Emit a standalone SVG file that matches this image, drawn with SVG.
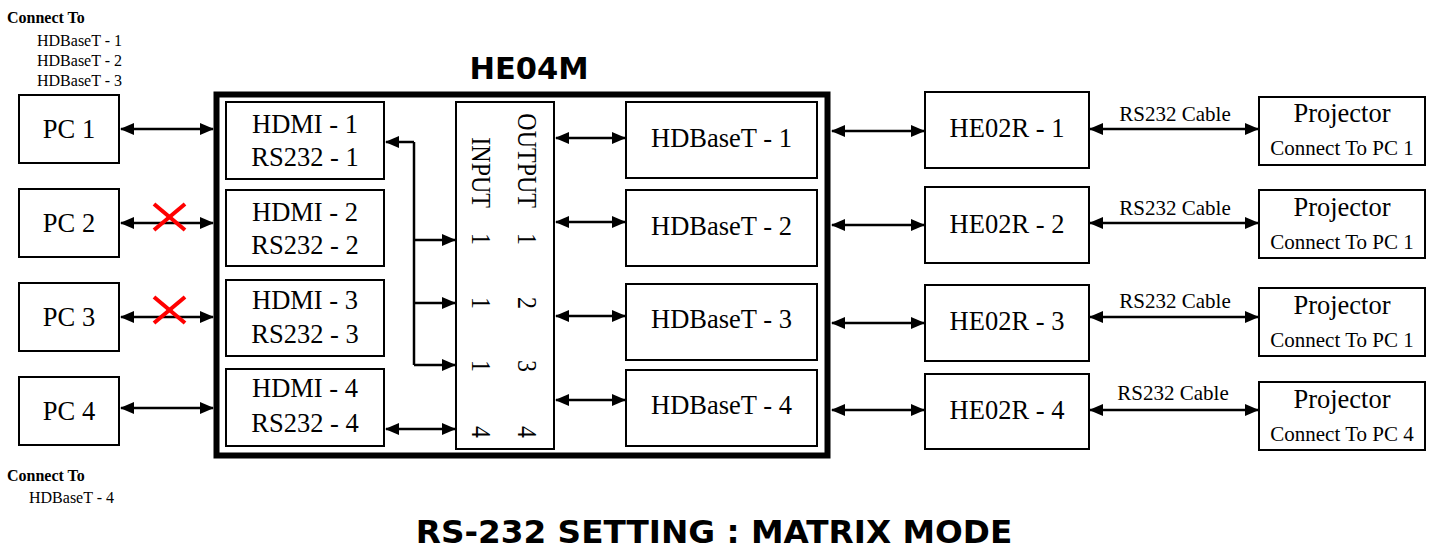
<svg xmlns="http://www.w3.org/2000/svg" width="1445" height="547" viewBox="0 0 1445 547">
<style>
.bx{fill:#fff;stroke:#000;stroke-width:2}
.t{font-family:"Liberation Serif","Times New Roman",serif;fill:#000;text-anchor:middle}
.l{font-size:26.5px}
.r{font-size:24px}
.m{font-size:21px}
.s{font-size:16px;text-anchor:start}
.b{font-weight:bold}
.h{font-family:"DejaVu Sans",Verdana,sans-serif;font-weight:bold;fill:#000;text-anchor:middle}
.c line,.c path{stroke:#000;stroke-width:2.5;fill:none}
.x line{stroke:#f00;stroke-width:4}
</style>
<defs>
<marker id="ah" viewBox="0 0 14 12" refX="13" refY="6" markerWidth="14" markerHeight="12" markerUnits="userSpaceOnUse" orient="auto-start-reverse">
<path d="M0,0 L14,6 L0,12 z" fill="#000"/>
</marker>
</defs>
<rect width="1445" height="547" fill="#fff"/>

<g id="notes">
<text class="t s b" x="7" y="23">Connect To</text>
<text class="t s" x="37" y="46">HDBaseT - 1</text>
<text class="t s" x="37" y="66">HDBaseT - 2</text>
<text class="t s" x="37" y="86">HDBaseT - 3</text>
<text class="t s b" x="7" y="481">Connect To</text>
<text class="t s" x="29" y="503">HDBaseT - 4</text>
</g>

<g id="pc1"><rect class="bx" x="19" y="95" width="100" height="68"/><text class="t l" x="69" y="138">PC 1</text></g>
<g id="pc2"><rect class="bx" x="19" y="189" width="100" height="68"/><text class="t l" x="69" y="232">PC 2</text></g>
<g id="pc3"><rect class="bx" x="19" y="283" width="100" height="68"/><text class="t l" x="69" y="326">PC 3</text></g>
<g id="pc4"><rect class="bx" x="19" y="377" width="100" height="68"/><text class="t l" x="69" y="420">PC 4</text></g>

<g id="he04m">
<text class="h" x="529" y="79" font-size="30.5">HE04M</text>
<rect x="216.5" y="94.5" width="611" height="361" fill="none" stroke="#000" stroke-width="6"/>
</g>

<g id="hdmi1"><rect class="bx" x="226" y="102" width="158" height="77"/><text class="t l" x="305" y="133">HDMI - 1</text><text class="t l" x="305" y="166">RS232 - 1</text></g>
<g id="hdmi2"><rect class="bx" x="226" y="190" width="158" height="76"/><text class="t l" x="305" y="221">HDMI - 2</text><text class="t l" x="305" y="254">RS232 - 2</text></g>
<g id="hdmi3"><rect class="bx" x="226" y="280" width="158" height="76"/><text class="t l" x="305" y="309">HDMI - 3</text><text class="t l" x="305" y="343">RS232 - 3</text></g>
<g id="hdmi4"><rect class="bx" x="226" y="369" width="158" height="77"/><text class="t l" x="305" y="397">HDMI - 4</text><text class="t l" x="305" y="432">RS232 - 4</text></g>

<g id="matrix">
<rect class="bx" x="456" y="102" width="98" height="347"/>
<g class="t r" style="text-anchor:end">
<text transform="translate(518,208) rotate(90) scale(1,1.15)">OUTPUT</text>
<text transform="translate(472,208) rotate(90) scale(1,1.15)">INPUT</text>
</g>
<g class="t r">
<text transform="translate(518,239) rotate(90) scale(1,1.15)">1</text>
<text transform="translate(518,303) rotate(90) scale(1,1.15)">2</text>
<text transform="translate(518,366) rotate(90) scale(1,1.15)">3</text>
<text transform="translate(518,432) rotate(90) scale(1,1.15)">4</text>
<text transform="translate(472,239) rotate(90) scale(1,1.15)">1</text>
<text transform="translate(472,303) rotate(90) scale(1,1.15)">1</text>
<text transform="translate(472,366) rotate(90) scale(1,1.15)">1</text>
<text transform="translate(472,432) rotate(90) scale(1,1.15)">4</text>
</g>
</g>

<g id="hdb1"><rect class="bx" x="626" y="102" width="191" height="76"/><text class="t l" x="721.5" y="147">HDBaseT - 1</text></g>
<g id="hdb2"><rect class="bx" x="626" y="190" width="191" height="76"/><text class="t l" x="721.5" y="235">HDBaseT - 2</text></g>
<g id="hdb3"><rect class="bx" x="626" y="284" width="191" height="76"/><text class="t l" x="721.5" y="328">HDBaseT - 3</text></g>
<g id="hdb4"><rect class="bx" x="626" y="370" width="191" height="76"/><text class="t l" x="721.5" y="414">HDBaseT - 4</text></g>

<g id="he02r1"><rect class="bx" x="925" y="92" width="164" height="76"/><text class="t l" x="1007" y="137">HE02R - 1</text></g>
<g id="he02r2"><rect class="bx" x="925" y="187" width="164" height="76"/><text class="t l" x="1007" y="233">HE02R - 2</text></g>
<g id="he02r3"><rect class="bx" x="925" y="285" width="164" height="76"/><text class="t l" x="1007" y="330">HE02R - 3</text></g>
<g id="he02r4"><rect class="bx" x="925" y="374" width="164" height="75"/><text class="t l" x="1007" y="419">HE02R - 4</text></g>

<g id="proj1"><rect class="bx" x="1259" y="97" width="166" height="68"/><text class="t l" x="1342" y="122">Projector</text><text class="t m" x="1342" y="155">Connect To PC 1</text></g>
<g id="proj2"><rect class="bx" x="1259" y="190" width="166" height="68"/><text class="t l" x="1342" y="216">Projector</text><text class="t m" x="1342" y="249">Connect To PC 1</text></g>
<g id="proj3"><rect class="bx" x="1259" y="288" width="166" height="68"/><text class="t l" x="1342" y="314">Projector</text><text class="t m" x="1342" y="347">Connect To PC 1</text></g>
<g id="proj4"><rect class="bx" x="1259" y="382" width="166" height="68"/><text class="t l" x="1342" y="408">Projector</text><text class="t m" x="1342" y="441">Connect To PC 4</text></g>

<g id="connectors" class="c">
<line x1="121" y1="129" x2="213" y2="129" marker-start="url(#ah)" marker-end="url(#ah)"/>
<line x1="121" y1="223" x2="213" y2="223" marker-start="url(#ah)" marker-end="url(#ah)"/>
<line x1="121" y1="317" x2="213" y2="317" marker-start="url(#ah)" marker-end="url(#ah)"/>
<line x1="121" y1="408" x2="213" y2="408" marker-start="url(#ah)" marker-end="url(#ah)"/>
<path d="M414,365 V142"/>
<line x1="414" y1="142" x2="386" y2="142" marker-end="url(#ah)"/>
<line x1="414" y1="240" x2="455" y2="240" marker-end="url(#ah)"/>
<line x1="414" y1="303" x2="455" y2="303" marker-end="url(#ah)"/>
<line x1="414" y1="365" x2="455" y2="365" marker-end="url(#ah)"/>
<line x1="386" y1="429" x2="455" y2="429" marker-start="url(#ah)" marker-end="url(#ah)"/>
<line x1="556" y1="138" x2="625" y2="138" marker-start="url(#ah)" marker-end="url(#ah)"/>
<line x1="556" y1="222" x2="625" y2="222" marker-start="url(#ah)" marker-end="url(#ah)"/>
<line x1="556" y1="316" x2="625" y2="316" marker-start="url(#ah)" marker-end="url(#ah)"/>
<line x1="556" y1="400" x2="625" y2="400" marker-start="url(#ah)" marker-end="url(#ah)"/>
<line x1="832" y1="131" x2="924" y2="131" marker-start="url(#ah)" marker-end="url(#ah)"/>
<line x1="832" y1="225" x2="924" y2="225" marker-start="url(#ah)" marker-end="url(#ah)"/>
<line x1="832" y1="323" x2="924" y2="323" marker-start="url(#ah)" marker-end="url(#ah)"/>
<line x1="832" y1="410" x2="924" y2="410" marker-start="url(#ah)" marker-end="url(#ah)"/>
<line x1="1090" y1="129" x2="1258" y2="129" marker-start="url(#ah)" marker-end="url(#ah)"/>
<line x1="1090" y1="223" x2="1258" y2="223" marker-start="url(#ah)" marker-end="url(#ah)"/>
<line x1="1090" y1="317" x2="1258" y2="317" marker-start="url(#ah)" marker-end="url(#ah)"/>
<line x1="1090" y1="410" x2="1258" y2="410" marker-start="url(#ah)" marker-end="url(#ah)"/>
</g>

<g id="cable-labels">
<text class="t m" x="1175" y="121">RS232 Cable</text>
<text class="t m" x="1175" y="215">RS232 Cable</text>
<text class="t m" x="1175" y="308">RS232 Cable</text>
<text class="t m" x="1173" y="400">RS232 Cable</text>
</g>

<g id="cross-marks" class="x">
<line x1="154" y1="204" x2="185" y2="230"/><line x1="154" y1="230" x2="185" y2="204"/>
<line x1="154" y1="297" x2="185" y2="323"/><line x1="154" y1="323" x2="185" y2="297"/>
</g>

<text class="h" x="714" y="543" font-size="32.7">RS-232 SETTING : MATRIX MODE</text>
</svg>
